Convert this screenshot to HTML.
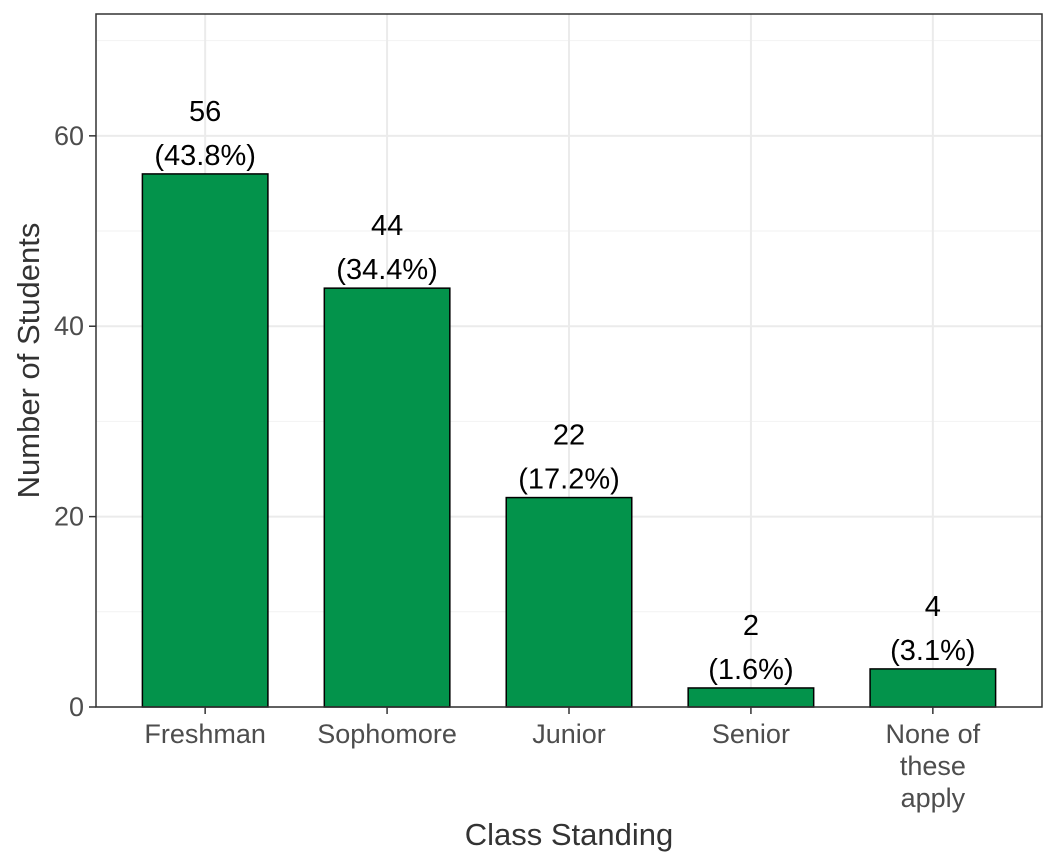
<!DOCTYPE html>
<html><head><meta charset="utf-8"><style>
body{margin:0;background:#fff}
svg{display:block;font-family:"Liberation Sans",Arial,sans-serif}
</style></head><body>
<svg id="chart" width="1056" height="864"></svg>
<script>
const categories=["Freshman","Sophomore","Junior","Senior","None of these apply"];
const counts=[56,44,22,2,4];
const percents=["43.8%","34.4%","17.2%","1.6%","3.1%"];
const yTicks=[0,20,40,60];
const yMinor=[10,30,50,70];
const catLines=[["Freshman"],["Sophomore"],["Junior"],["Senior"],["None of","these","apply"]];

const NS="http://www.w3.org/2000/svg";
const svg=document.getElementById('chart');
const L=96,R=1042,T=14,B=707;
const yMax=72.8;
const y=v=>B-(v/yMax)*(B-T);
const unit=(R-L)/(categories.length+0.2);
const x=i=>L+(i+0.6)*unit;
function el(tag,attrs,parent){const e=document.createElementNS(NS,tag);for(const k in attrs)e.setAttribute(k,attrs[k]);(parent||svg).appendChild(e);return e;}

yMinor.forEach(v=>{const l=el('line',{x1:L,x2:R,y1:y(v),y2:y(v),stroke:'#f2f2f2','stroke-width':1});

});
yTicks.forEach(v=>{const l=el('line',{x1:L,x2:R,y1:y(v),y2:y(v),stroke:'#ebebeb','stroke-width':2});

});
categories.forEach((c,i)=>{const l=el('line',{x1:x(i),x2:x(i),y1:T,y2:B,stroke:'#ebebeb','stroke-width':2});

});

const bw=unit*0.69;
categories.forEach((c,i)=>{
 const r=el('rect',{x:x(i)-bw/2,y:y(counts[i]),width:bw,height:B-y(counts[i]),fill:'#03934b',stroke:'#000','stroke-width':1.5});
 
 
 const t1=el('text',{x:x(i),y:y(counts[i])-53,'text-anchor':'middle','font-size':29,fill:'#000'});t1.textContent=counts[i];
 
 
 const t2=el('text',{x:x(i),y:y(counts[i])-9,'text-anchor':'middle','font-size':29,fill:'#000'});t2.textContent='('+percents[i]+')';
 
 
 el('line',{x1:x(i),x2:x(i),y1:B,y2:B+7,stroke:'#333','stroke-width':1.5});
 catLines[i].forEach((s,j)=>{const t=el('text',{x:x(i),y:B+36+j*32,'text-anchor':'middle','font-size':27,fill:'#4d4d4d'});t.textContent=s;
 
 });
});
yTicks.forEach(v=>{
 el('line',{x1:L-7,x2:L,y1:y(v),y2:y(v),stroke:'#333','stroke-width':1.5});
 const t=el('text',{x:L-12,y:y(v)+9,'text-anchor':'end','font-size':27,fill:'#4d4d4d'});t.textContent=v;
 
 
});
const fr=el('rect',{x:L,y:T,width:R-L,height:B-T,fill:'none',stroke:'#333','stroke-width':1.5});


const xt=el('text',{x:(L+R)/2,y:845,'text-anchor':'middle','font-size':31,fill:'#333'});xt.textContent='Class Standing';


const yt=el('text',{x:0,y:0,transform:`translate(39,${(T+B)/2}) rotate(-90)`,'text-anchor':'middle','font-size':31,fill:'#333'});yt.textContent='Number of Students';


</script>
</body></html>
